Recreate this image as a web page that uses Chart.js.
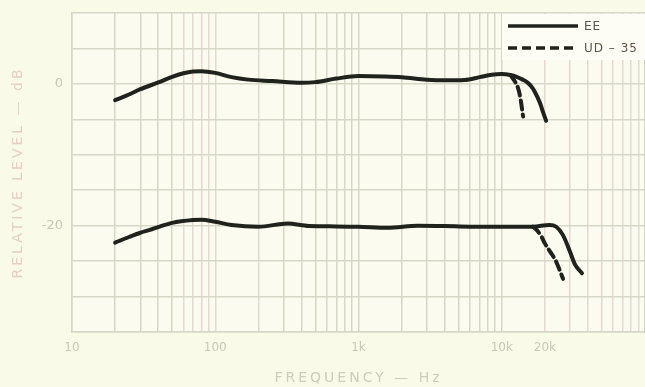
<!DOCTYPE html>
<html><head><meta charset="utf-8">
<script src="https://cdn.jsdelivr.net/npm/chart.js@4/dist/chart.umd.min.js"></script>
<style>html,body{margin:0;padding:0;background:#fafae9;}canvas{display:block}</style>
</head><body>
<canvas id="c" width="645" height="387"></canvas>
<script>
// ---- data ----
const eeUpperFreq = [20,25,30,40,50,60,70,80,100,130,170,250,400,500,700,1000,1500,2000,3000,4000,5500,7000,8500,10000,11500,12700,14000,15000,16000,17000,18500,19500,20400];
const eeUpperDb   = [-2.3,-1.5,-0.75,0.2,1.0,1.5,1.75,1.8,1.55,0.95,0.6,0.4,0.15,0.25,0.75,1.1,1.05,0.95,0.6,0.5,0.55,0.95,1.3,1.4,1.25,1.0,0.6,0.25,-0.3,-1.1,-2.7,-4.1,-5.2];
const udUpperFreq = [11500,12300,13000,13500,13800,14100];
const udUpperDb   = [1.25,0.4,-0.6,-2.0,-3.3,-4.6];
const eeLowerFreq = [20,25,30,35,40,50,70,80,100,130,200,320,450,700,1000,1600,2600,4000,6000,11000,16500,21500,24000,26700,30000,32500,36300];
const eeLowerDb   = [-22.4,-21.6,-21.0,-20.6,-20.2,-19.6,-19.2,-19.15,-19.45,-19.9,-20.15,-19.7,-20.05,-20.1,-20.15,-20.3,-20.0,-20.05,-20.15,-20.15,-20.15,-19.9,-20.15,-21.3,-23.7,-25.5,-26.7];
const udLowerFreq = [16500,17700,19000,20000,22000,24000,26800];
const udLowerDb   = [-20.15,-20.7,-21.6,-22.5,-23.8,-25.1,-27.5];
const seriesNames = ['EE', 'UD \u2013 35'];
const xTickValues = [10, 100, 1000, 10000, 20000];
const xTickLabels = ['10', '100', '1k', '10k', '20k'];
const yTickValues = [0, -20];
const yTickLabels = ['0', '-20'];
const xTitle = 'FREQUENCY \u2014 Hz';
const yTitle = 'RELATIVE LEVEL \u2014 dB';
const decades = [10, 100, 1000, 10000];
const yMin = -35, yMax = 10, yStep = 5;
const pinkX = [60,70,80,90,100,200,20000,30000,40000,50000,60000,70000,80000,90000];

// ---- helpers ----
const pts = (f, v) => f.map((x, i) => ({x, y: v[i]}));
const xGrid = [];
decades.forEach(d => { for (let m = 1; m <= 9; m++) xGrid.push(d * m); });
xGrid.push(decades[decades.length - 1] * 10);
const yGrid = [];
for (let v = yMin; v <= yMax; v += yStep) yGrid.push(v);

const INK = '#20221d';
const GRID = '#d7d7c7';
const PINK = '#e6d9cf';

const areaBg = {
  id: 'areaBg',
  beforeDraw(chart) {
    const {ctx, chartArea: a} = chart;
    ctx.save(); ctx.fillStyle = '#fbfbf0';
    ctx.fillRect(a.left, a.top, a.right - a.left, a.bottom - a.top);
    ctx.restore();
    Object.values(chart.scales).forEach(s => {
      if (s._spaced) return;
      const orig = s.drawTitle;
      s.drawTitle = function () { this.ctx.save(); this.ctx.letterSpacing = '3px'; orig.call(this); this.ctx.restore(); };
      s._spaced = true;
    });
  }
};

const paperLegend = {
  id: 'paperLegend',
  beforeDatasetsDraw(chart) {
    const {ctx, chartArea: a} = chart;
    ctx.save();
    ctx.fillStyle = '#fdfdf6';
    ctx.fillRect(a.right - 143, a.top + 1, 143, 46);
    [0, 1].forEach(i => {
      const ds = chart.data.datasets[i];
      const y = a.top + 13 + i * 22;
      ctx.beginPath();
      ctx.setLineDash(ds.borderDash || []);
      ctx.lineWidth = 3.5; ctx.strokeStyle = ds.borderColor;
      ctx.moveTo(a.right - 137, y); ctx.lineTo(a.right - 67, y); ctx.stroke();
      ctx.setLineDash([]);
      ctx.fillStyle = '#5e5446';
      ctx.font = '12px "DejaVu Sans"';
      ctx.letterSpacing = '1px';
      ctx.textBaseline = 'middle'; ctx.textAlign = 'left';
      ctx.fillText(ds.label, a.right - 61, y + 1);
    });
    ctx.restore();
  }
};

const lineDs = (label, data, dashed) => ({
  label, data, borderColor: INK, borderWidth: 4, pointRadius: 0,
  borderDash: dashed ? [9, 5] : [], cubicInterpolationMode: 'monotone',
  borderCapStyle: 'round', borderJoinStyle: 'round', fill: false
});

new Chart(document.getElementById('c'), {
  type: 'line',
  data: {
    datasets: [
      lineDs(seriesNames[0], pts(eeUpperFreq, eeUpperDb), false),
      lineDs(seriesNames[1], pts(udUpperFreq, udUpperDb), true),
      lineDs(seriesNames[0], pts(eeLowerFreq, eeLowerDb), false),
      lineDs(seriesNames[1], pts(udLowerFreq, udLowerDb), true)
    ]
  },
  options: {
    responsive: false, animation: false, devicePixelRatio: 1,
    layout: {padding: {top: 13, right: 0, left: 0, bottom: 0}},
    plugins: {legend: {display: false}, tooltip: {enabled: false}},
    scales: {
      x: {
        type: 'logarithmic', min: 10, max: 100000,
        afterBuildTicks: s => { s.ticks = xGrid.map(v => ({value: v})); },
        afterFit: s => { s.height = 55; s.paddingLeft = 0; s.paddingRight = 0; },
        grid: {color: c => pinkX.includes(c.tick && c.tick.value) ? PINK : GRID, lineWidth: 1.5, drawTicks: false},
        border: {color: GRID, width: 1.5},
        ticks: {
          autoSkip: false, maxRotation: 0, minRotation: 0, padding: 9,
          color: '#c8c8b8', font: {family: 'DejaVu Sans', size: 12},
          callback: v => { const i = xTickValues.indexOf(v); return i >= 0 ? xTickLabels[i] : ''; }
        },
        title: {display: true, text: xTitle, color: '#cdcdbd', font: {family: 'DejaVu Sans', size: 14}, padding: {top: 0, bottom: 0}}
      },
      y: {
        type: 'linear', min: yMin, max: yMax,
        afterBuildTicks: s => { s.ticks = yGrid.map(v => ({value: v})); },
        afterFit: s => { s.width = 72; s.paddingTop = 0; s.paddingBottom = 0; },
        grid: {color: GRID, lineWidth: 1.5, drawTicks: false},
        border: {color: GRID, width: 1.5},
        ticks: {
          padding: 9, color: '#c8c8b8', font: {family: 'DejaVu Sans', size: 13},
          callback: v => { const i = yTickValues.indexOf(v); return i >= 0 ? yTickLabels[i] : ''; }
        },
        title: {display: true, text: yTitle, color: '#e6cfc6', font: {family: 'DejaVu Sans', size: 14}, padding: {top: 10, bottom: 0}}
      }
    }
  },
  plugins: [areaBg, paperLegend]
});
</script>
</body></html>
